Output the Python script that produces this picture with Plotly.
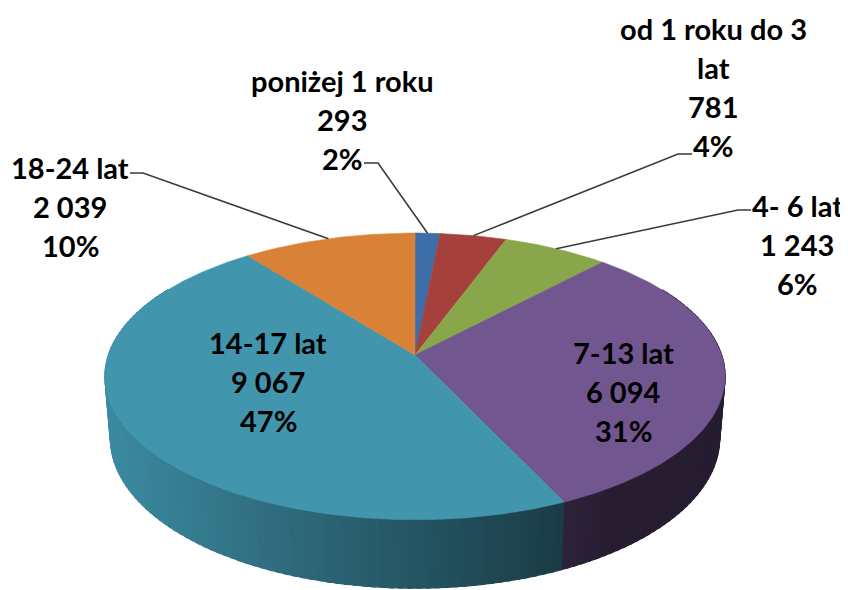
import numpy as np
import plotly.graph_objects as go

# ---------------- data ----------------
categories = ["poniżej 1 roku", "od 1 roku do 3 lat", "4- 6 lat", "7-13 lat", "14-17 lat", "18-24 lat"]
values = [293, 781, 1243, 6094, 9067, 2039]
value_labels = ["293", "781", "1 243", "6 094", "9 067", "2 039"]
percent_labels = ["2%", "4%", "6%", "31%", "47%", "10%"]
name_lines = [["poniżej 1 roku"], ["od 1 roku do 3", "lat"], ["4- 6 lat"], ["7-13 lat"], ["14-17 lat"], ["18-24 lat"]]

# ---------------- styles / layout ----------------
top_colors = ["#3D6EA8", "#A6403D", "#8AA64B", "#725690", "#4196AE", "#DA8138"]
PAGE_W, PAGE_H = 848, 590
OFF = 8                        # default body margin of the html page
CX, CY = 415.0, 355.0          # pie centre on the page
R = 306.6                      # pie radius
ELEV = np.radians(27.2)        # camera elevation
DIST = 1826.0                  # camera distance (perspective)
THICK = 70.0                   # pie thickness

# label layout: centre x, first line y, leader (start x, elbow x, y) or None
label_layout = [
    dict(x=342, y=80, leader=(364, 378, 163)),
    dict(x=713, y=28, leader=(692, 678, 154)),
    dict(x=797, y=205, leader=(751, 738, 210)),
    dict(x=623, y=352, leader=None),
    dict(x=268, y=342, leader=None),
    dict(x=70, y=167, leader=(130, 143, 173)),
]
LINE_SP = 39
FONT = dict(family="Lato, 'Open Sans', sans-serif", size=29, color="#000000", weight=700)


def proj(theta_deg, y):
    t = np.radians(theta_deg)
    x = R * np.sin(t)
    z = -R * np.cos(t)
    yc = y * np.cos(ELEV) - z * np.sin(ELEV)
    zc = z * np.cos(ELEV) + y * np.sin(ELEV)
    s = DIST / (DIST - zc)
    return CX + x * s, CY - yc * s


def shade(hex_color, f):
    h = hex_color.lstrip("#")
    r, g, b = (int(h[i:i + 2], 16) for i in (0, 2, 4))
    return "rgb(%d,%d,%d)" % (round(r * f), round(g * f), round(b * f))


total = float(sum(values))
bounds = np.concatenate([[0.0], np.cumsum(values) / total * 360.0])

fig = go.Figure()

# ---------- side strips ----------
strips = []
VIS0, VIS1 = 60.0, 300.0
STEP = 1.5
for i in range(len(values)):
    a0, a1 = max(bounds[i], VIS0), min(bounds[i + 1], VIS1)
    if a1 <= a0:
        continue
    n = int(np.ceil((a1 - a0) / STEP))
    edges = np.linspace(a0, a1, n + 1)
    for k in range(n):
        lo = edges[k]
        hi = min(edges[k + 1] + 0.6, a1)  # small overlap hides seams
        ta = np.linspace(lo, hi, 4)
        xt, yt = proj(ta, 0.0)
        xb, yb = proj(ta[::-1], -THICK)
        xs = np.concatenate([xt, xb, xt[:1]])
        ys = np.concatenate([yt, yb, yt[:1]])
        mid = 0.5 * (edges[k] + edges[k + 1])
        xm, _ = proj(mid, 0.0)
        u = (xm - CX) / R
        f = float(np.clip(0.40 + 0.52 * (0.48 - u) / 1.48, 0.34, 0.95))
        depth = -np.cos(np.radians(mid))
        strips.append((depth, xs, ys, shade(top_colors[i], f)))

for depth, xs, ys, col in sorted(strips, key=lambda s: s[0]):
    fig.add_trace(go.Scatter(x=xs, y=ys, mode="lines", fill="toself", fillcolor=col,
                             line=dict(color=col, width=1.2), hoverinfo="skip", showlegend=False))

# ---------- top faces ----------
for i in range(len(values)):
    n = max(3, int(np.ceil((bounds[i + 1] - bounds[i]) / 0.5)))
    ta = np.linspace(bounds[i], bounds[i + 1], n + 1)
    xt, yt = proj(ta, 0.0)
    xs = np.concatenate([[CX], xt, [CX]])
    ys = np.concatenate([[CY], yt, [CY]])
    fig.add_trace(go.Scatter(x=xs, y=ys, mode="lines", fill="toself", fillcolor=top_colors[i],
                             line=dict(color=top_colors[i], width=0.6), hoverinfo="skip",
                             showlegend=False))

# ---------- leader lines & labels ----------
for i in range(len(values)):
    lay = label_layout[i]
    lines = name_lines[i] + [value_labels[i], percent_labels[i]]
    for j, txt in enumerate(lines):
        fig.add_annotation(x=lay["x"], y=lay["y"] + j * LINE_SP, text=txt, showarrow=False,
                           xanchor="center", yanchor="middle", font=FONT)
    if lay["leader"] is not None:
        sx, ex, ly = lay["leader"]
        mid = 0.5 * (bounds[i] + bounds[i + 1])
        px, py = proj(mid, 0.0)
        fig.add_trace(go.Scatter(x=[sx, ex, px], y=[ly, ly, py], mode="lines",
                                 line=dict(color="#3a3a3a", width=1.6), hoverinfo="skip",
                                 showlegend=False))

fig.update_layout(
    width=PAGE_W - OFF, height=PAGE_H - OFF,
    margin=dict(l=0, r=0, t=0, b=0),
    paper_bgcolor="white", plot_bgcolor="white",
    xaxis=dict(range=[OFF, PAGE_W], visible=False, fixedrange=True),
    yaxis=dict(range=[PAGE_H, OFF], visible=False, fixedrange=True),
    showlegend=False,
)

fig.write_html("out.html")
